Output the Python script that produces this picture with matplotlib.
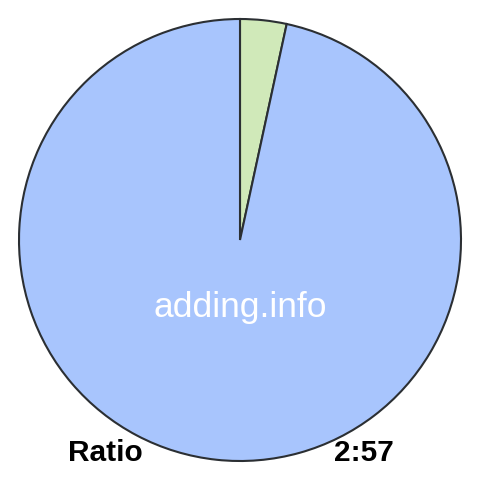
import matplotlib.pyplot as plt

labels = ["2", "57"]
values = [2, 57]
colors = ["#d0e9b9", "#a8c5fd"]

fig = plt.figure(figsize=(4.8, 4.8), dpi=100)
ax = fig.add_axes([0, 0, 1, 1])

ax.pie(values, colors=colors, startangle=90, counterclock=False,
       center=(240, 240), radius=221,
       wedgeprops={"edgecolor": "#2b2f33", "linewidth": 1.5})
ax.set_xlim(0, 480)
ax.set_ylim(0, 480)
ax.set_aspect("equal")
ax.axis("off")

ax.text(240, 172, "adding.info", color="white", fontsize=25.5,
        family="Liberation Sans", ha="center", va="center")
ax.text(68, 27, "Ratio", color="black", fontsize=21.5, fontweight="bold",
        family="Liberation Sans", ha="left", va="center")
ax.text(394, 27, f"{values[0]}:{values[1]}", color="black", fontsize=21.5,
        fontweight="bold", family="Liberation Sans", ha="right", va="center")

fig.savefig("out.png", dpi=100)
